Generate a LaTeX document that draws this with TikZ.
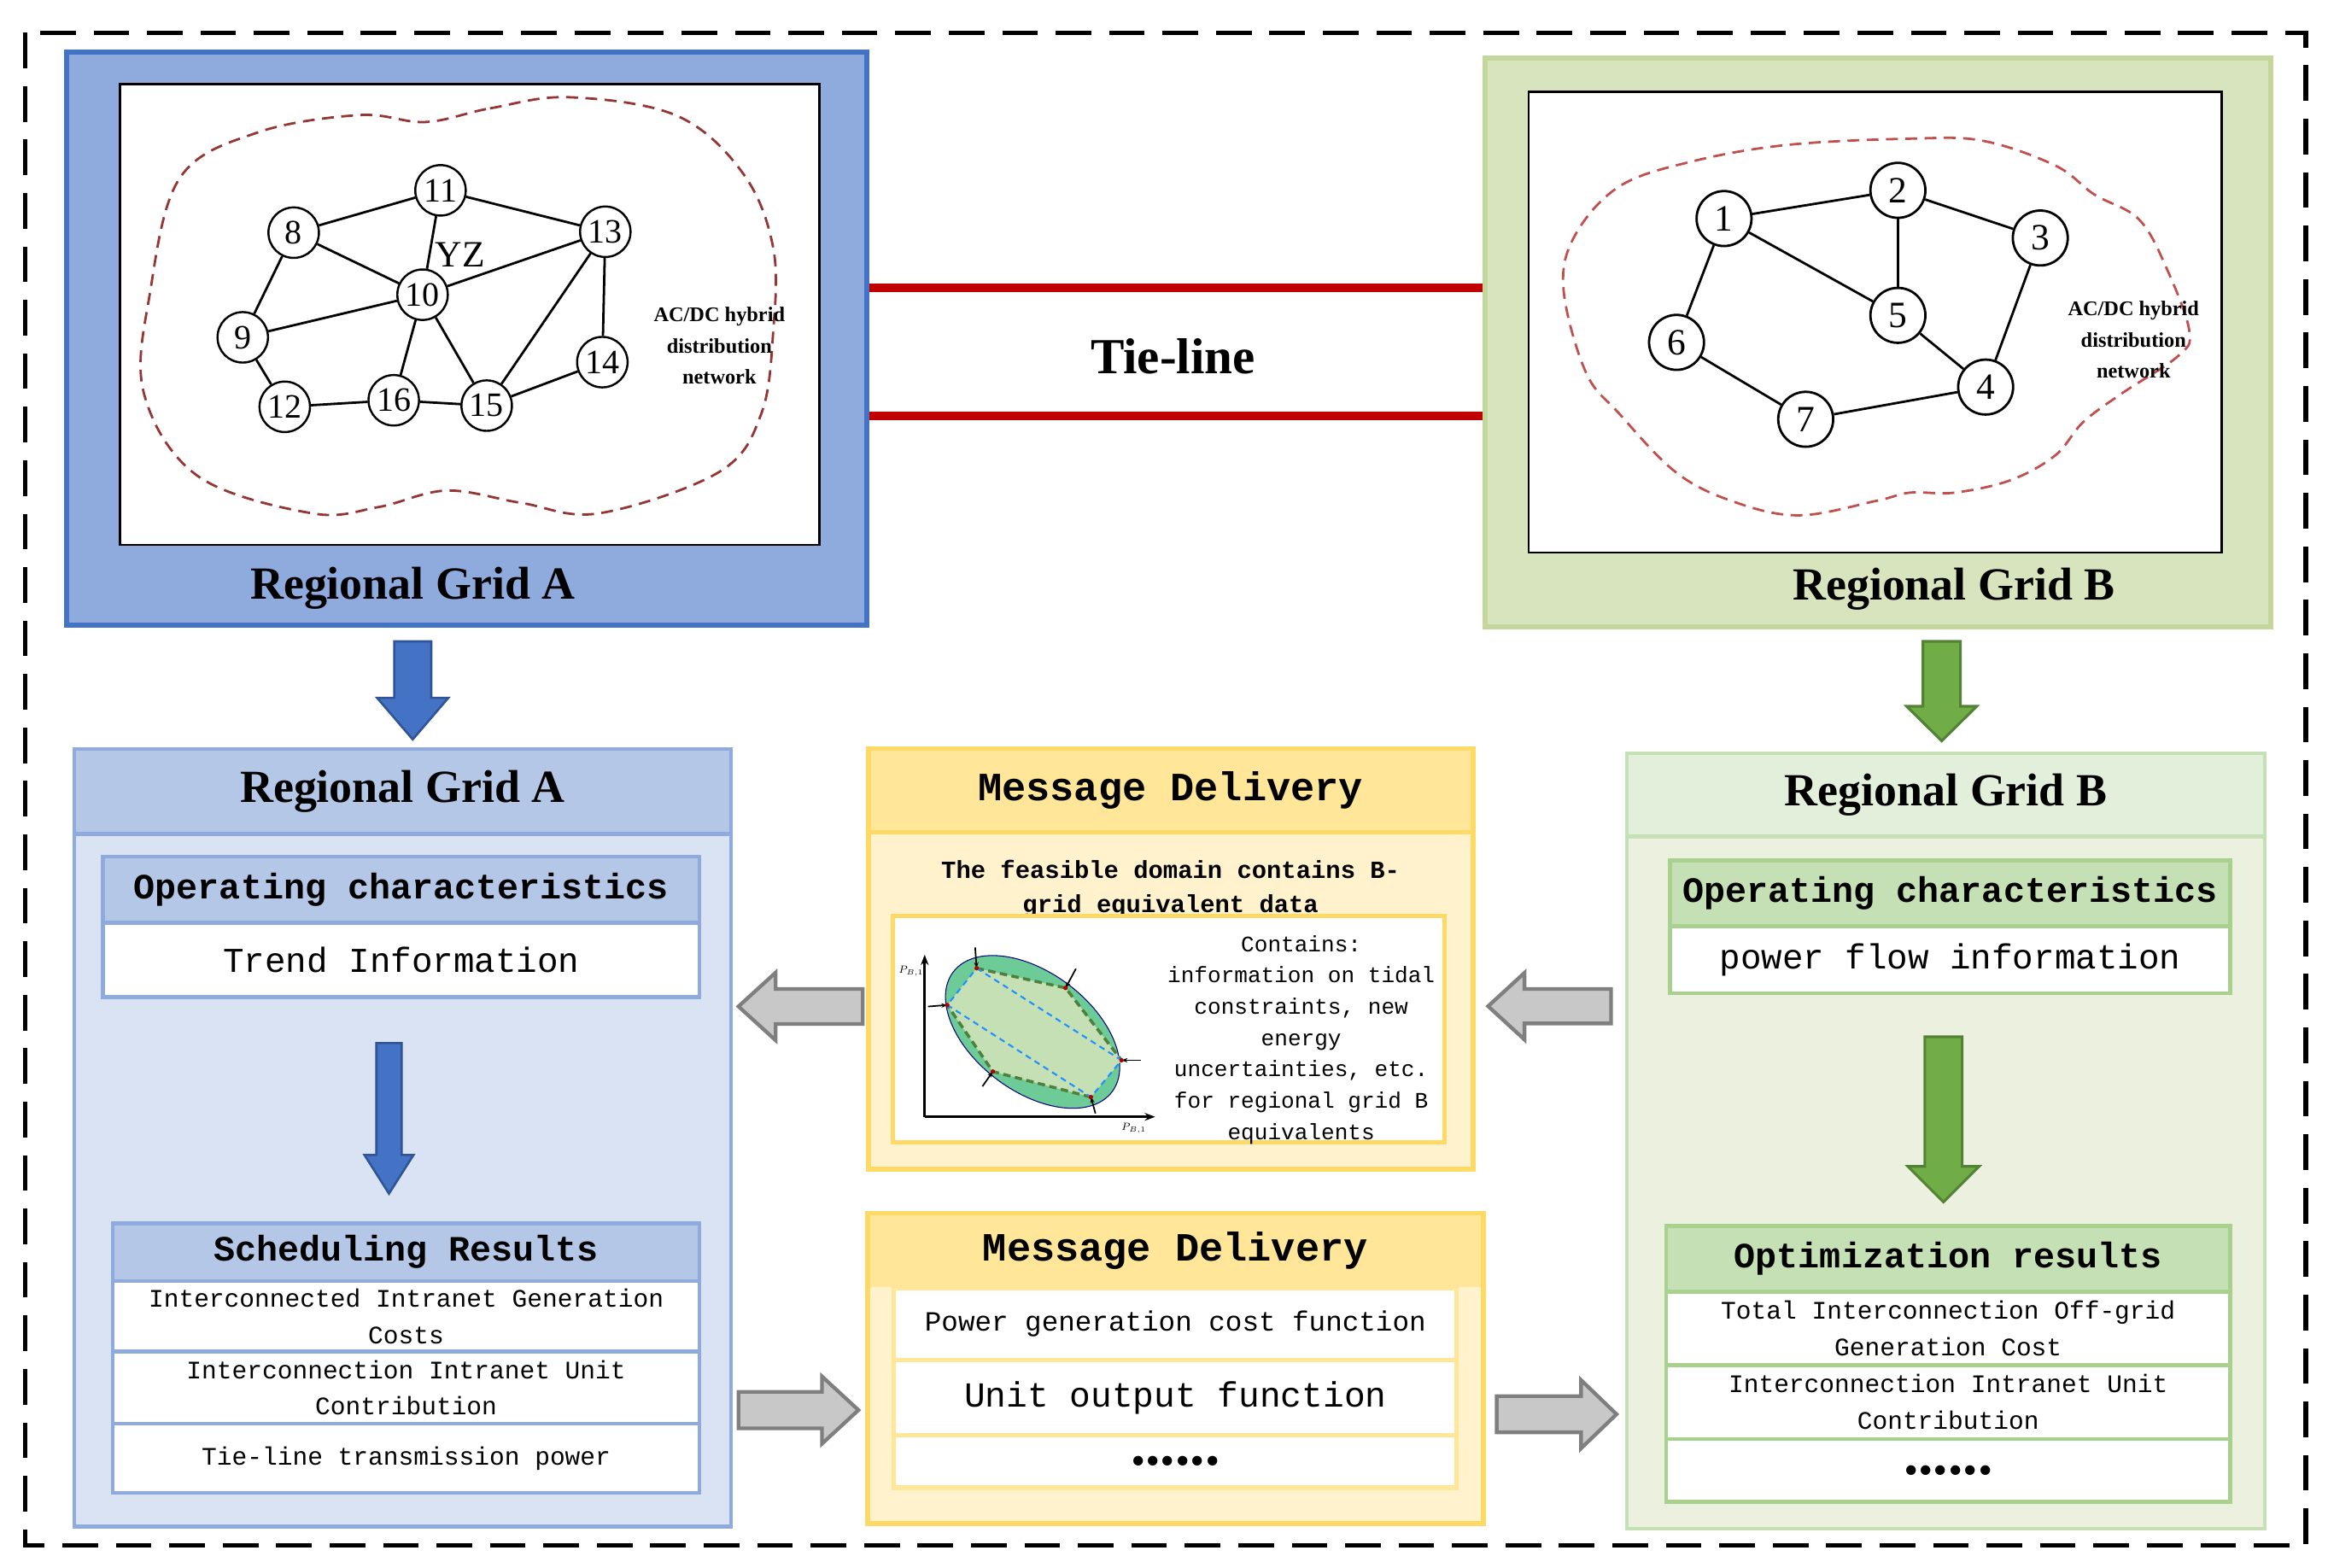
\documentclass[tikz,border=0pt]{standalone}
\usepackage{fontspec}
\setmainfont{Liberation Serif}
\newfontfamily\monofont{Liberation Mono}
\usetikzlibrary{calc, positioning, arrows.meta}

\definecolor{blueA}{HTML}{4472C4}
\definecolor{blueAfill}{HTML}{8FAADC}
\definecolor{blueHead}{HTML}{B4C7E7}
\definecolor{blueBody}{HTML}{DAE3F3}
\definecolor{blueDark}{HTML}{2F5597}
\definecolor{greenB}{HTML}{C3D69B}
\definecolor{greenBfill}{HTML}{D7E4BD}
\definecolor{greenHead}{HTML}{E2EFDA}
\definecolor{greenBody}{HTML}{EBF1DE}
\definecolor{greenLine}{HTML}{C5E0B4}
\definecolor{greenSub}{HTML}{C5E0B4}
\definecolor{greenSubLine}{HTML}{A9D18E}
\definecolor{greenArrow}{HTML}{70AD47}
\definecolor{greenDark}{HTML}{548235}
\definecolor{yellowLine}{HTML}{FFD966}
\definecolor{yellowHead}{HTML}{FFE699}
\definecolor{yellowBody}{HTML}{FFF2CC}
\definecolor{tieRed}{HTML}{C00000}
\definecolor{cloudA}{HTML}{943634}
\definecolor{cloudB}{HTML}{C0504D}
\definecolor{grayFill}{HTML}{C8C8C8}
\definecolor{grayLine}{HTML}{7F7F7F}
\definecolor{domainOut}{HTML}{6DCB98}
\definecolor{domainIn}{HTML}{C5E0B4}
\definecolor{hexGreen}{HTML}{4F7F3A}
\definecolor{hexBlue}{HTML}{1E90FF}

\tikzset{
  box/.style={draw, inner sep=0pt, outer sep=0pt},
  cell/.style 2 args={box, draw=#1, fill=#2, line width=2.5pt},
  netbus/.style={circle, draw, line width=1.4pt, fill=white, inner sep=0pt, minimum size=34pt, font=\fontsize{23}{23}\selectfont},
  netbusB/.style={netbus, minimum size=37pt, line width=1.6pt, font=\fontsize{25}{25}\selectfont},
  netlink/.style={line width=1.6pt},
  cloudline/.style={dash pattern=on 8pt off 5pt, line width=1.6pt},
  gridtitle/.style={font=\fontsize{31}{31}\selectfont\bfseries},
  hybridtext/.style={font=\fontsize{14}{21}\selectfont\bfseries, align=center},
  monohead/.style={font=\monofont\fontsize{24}{24}\selectfont\bfseries},
  monotext/.style={font=\monofont\fontsize{23.5}{24}\selectfont},
  monosmall/.style={font=\monofont\fontsize{17}{24.5}\selectfont, align=center},
  msgfont/.style={font=\monofont\fontsize{27}{27}\selectfont\bfseries},
  dotsfont/.style={font=\fontsize{40}{40}\selectfont\bfseries},
  bluearrow/.style={fill=blueA, draw=blueDark, line width=1.5pt},
  greenarrow/.style={fill=greenArrow, draw=greenDark, line width=1.8pt},
  fatgray/.style={fill=grayFill, draw=grayLine, line width=2.5pt},
}

\newcommand{\fatarrow}[6][]{%
  \coordinate (fa-s) at (#2);
  \coordinate (fa-e) at (#3);
  \coordinate (fa-h) at ($(fa-e)!#6!(fa-s)$);
  \draw[#1] ($(fa-s)!#4!90:(fa-e)$) -- ($(fa-h)!#4!-90:(fa-s)$) -- ($(fa-h)!#5!-90:(fa-s)$) -- (fa-e)
    -- ($(fa-h)!#5!90:(fa-s)$) -- ($(fa-h)!#4!90:(fa-s)$) -- ($(fa-s)!#4!-90:(fa-e)$) -- cycle;
}

\begin{document}
\begin{tikzpicture}[x=1pt, y=-1pt]
  \useasboundingbox (0,0) rectangle (1568,1056);
  \draw[line width=3pt, dash pattern=on 24pt off 12pt] (17,22) rectangle (1553,1041);

  % regional grid A
  \node[box, fill=blueAfill, draw=blueA, line width=3.5pt, minimum width=539pt, minimum height=386pt] (gridA) at (314.5,228) {};
  \node[box, fill=white, draw=black, line width=1.5pt, minimum width=471.3pt, minimum height=310.4pt] (netA) at (316.35,211.8) {};
  \draw[cloudline, cloudA] plot[smooth cycle, tension=0.6] coordinates {(286.6,82.2) (330,73) (383.5,65.5) (456,78) (500.6,117) (520.8,167) (520.8,223) (512.7,278.8) (484.5,317.8) (403.7,345.7) (351,338.7) (300.8,330.4) (255,341.5) (210,345.7) (133.2,320.6) (96.9,264.8) (100.9,198) (121.1,119.9) (173.6,89.2) (242.2,77.5)};
  \foreach \n/\x/\y in {8/197.8/156.7, 9/163.5/227.2, 10/284.6/198.5, 11/296.7/128.2, 12/191.8/274, 13/407.7/156.1, 14/405.7/243.9, 15/327.8/273.2, 16/265.2/269.6}
    \node[netbus] (a\n) at (\x,\y) {\n};
  \foreach \a/\b in {8/11, 11/13, 11/10, 8/10, 8/9, 9/10, 10/13, 13/15, 13/14, 10/16, 10/15, 9/12, 12/16, 16/15, 15/14}
    \draw[netlink] (a\a) -- (a\b);
  \node[font=\fontsize{25}{25}\selectfont] (yz) at (310,171.5) {YZ};
  \node[hybridtext] (hybridA) at (484.5,233) {AC/DC hybrid\\distribution\\network};
  \node[gridtitle] (titleA) at (278,396) {Regional Grid A};

  % regional grid B
  \node[box, fill=greenBfill, draw=greenB, line width=3.5pt, minimum width=529pt, minimum height=383.4pt] (gridB) at (1264.9,230.7) {};
  \node[box, fill=white, draw=black, line width=1.5pt, minimum width=466.7pt, minimum height=310.3pt] (netB) at (1262.85,217.05) {};
  \draw[cloudline, cloudB] plot[smooth cycle, tension=0.6] coordinates {(1286.5,93.4) (1335.4,94.8) (1384.3,111.5) (1410.6,131) (1440.7,147.8) (1459.5,181.2) (1474.6,223) (1467,239.8) (1429.4,264.8) (1403,284.4) (1384.3,306.7) (1354.2,323.4) (1316.5,331.8) (1286.5,331.8) (1263.9,337.3) (1211.2,347.1) (1166,337.3) (1128.4,317.8) (1090.8,278.8) (1068.2,250.9) (1053.1,195.2) (1060.6,158.9) (1090.8,125.5) (1139.8,108.7) (1203.8,97.6)};
  \foreach \n/\x/\y in {1/1161.2/147.2, 2/1278.3/128.2, 3/1374.2/160.3, 4/1337.4/260.7, 5/1278.3/212.4, 6/1129.2/230.6, 7/1216.2/282.4}
    \node[netbusB] (b\n) at (\x,\y) {\n};
  \foreach \a/\b in {1/2, 2/3, 2/5, 1/5, 1/6, 3/4, 5/4, 6/7, 7/4}
    \draw[netlink] (b\a) -- (b\b);
  \node[hybridtext] (hybridB) at (1437,229) {AC/DC hybrid\\distribution\\network};
  \node[gridtitle] (titleB) at (1316,397) {Regional Grid B};

  % tie-lines
  \draw[tieRed, line width=6pt, shorten <=1.75pt, shorten >=1.75pt] (gridA.east |- 0,194) -- (gridB.west |- 0,194);
  \draw[tieRed, line width=6pt, shorten <=1.75pt, shorten >=1.75pt] (gridA.east |- 0,280) -- (gridB.west |- 0,280);
  \node[font=\fontsize{34}{34}\selectfont\bfseries] (tieLabel) at (790,240) {Tie-line};

  % panel A
  \node[cell={blueAfill}{blueBody}, minimum width=442.4pt, minimum height=523.7pt] (panelA) at (271.1,766.35) {};
  \node[cell={blueAfill}{blueHead}, minimum width=442.4pt, minimum height=57.1pt, below=0pt of panelA.north, gridtitle] (panelAhead) {Regional Grid A};
  \node[cell={blueAfill}{blueHead}, minimum width=401.7pt, minimum height=44.7pt, monohead] (opA) at (270.25,599.15) {Operating characteristics};
  \node[cell={blueAfill}{white}, minimum width=401.7pt, minimum height=50pt, below=0pt of opA, monotext] (trendA) {Trend Information};
  \node[cell={blueAfill}{blueHead}, minimum width=395.1pt, minimum height=38.8pt, monohead] (schA) at (273.55,843.3) {Scheduling Results};
  \node[cell={blueAfill}{white}, minimum width=395.1pt, minimum height=47.6pt, below=0pt of schA, monosmall] (costA) {Interconnected Intranet Generation\\Costs};
  \node[cell={blueAfill}{white}, minimum width=395.1pt, minimum height=48.6pt, below=0pt of costA, monosmall] (unitA) {Interconnection Intranet Unit\\Contribution};
  \node[cell={blueAfill}{white}, minimum width=395.1pt, minimum height=46.5pt, below=0pt of unitA, monosmall] (tieA) {Tie-line transmission power};

  % panel B
  \node[cell={greenLine}{greenBody}, minimum width=429.9pt, minimum height=522.2pt] (panelB) at (1310.65,768.4) {};
  \node[cell={greenLine}{greenHead}, minimum width=429.9pt, minimum height=56.2pt, below=0pt of panelB.north, gridtitle] (panelBhead) {Regional Grid B};
  \node[cell={greenSubLine}{greenSub}, minimum width=377.5pt, minimum height=44.3pt, monohead] (opB) at (1313.45,601.75) {Operating characteristics};
  \node[cell={greenSubLine}{white}, minimum width=377.5pt, minimum height=45pt, below=0pt of opB, monotext] (flowB) {power flow information};
  \node[cell={greenSubLine}{greenSub}, minimum width=380.1pt, minimum height=44.2pt, monohead] (optB) at (1312.15,847.8) {Optimization results};
  \node[cell={greenSubLine}{white}, minimum width=380.1pt, minimum height=49.5pt, below=0pt of optB, monosmall] (totalB) {Total Interconnection Off-grid\\Generation Cost};
  \node[cell={greenSubLine}{white}, minimum width=380.1pt, minimum height=49.8pt, below=0pt of totalB, monosmall] (unitB) {Interconnection Intranet Unit\\Contribution};
  \node[cell={greenSubLine}{white}, minimum width=380.1pt, minimum height=42.2pt, below=0pt of unitB, dotsfont] (moreB) {......};

  % message delivery, top
  \node[cell={yellowLine}{yellowBody}, line width=3.3pt, minimum width=407.2pt, minimum height=283.3pt] (msgTop) at (788.4,645.85) {};
  \node[cell={yellowLine}{yellowHead}, line width=3.3pt, minimum width=407.2pt, minimum height=56.3pt, below=0pt of msgTop.north, msgfont] (msgTopHead) {Message Delivery};
  \node[font=\monofont\fontsize{16.6}{23}\selectfont\bfseries, align=center] (feasText) at (788.4,598.6) {The feasible domain contains B-\\grid equivalent data};
  \node[cell={yellowLine}{white}, line width=3pt, minimum width=371.5pt, minimum height=152.6pt] (msgInner) at (787.05,693) {};
  \node[font=\monofont\fontsize{15}{21.1}\selectfont, align=center] (containsText) at (876.4,700.2) {Contains:\\information on tidal\\constraints, new\\energy\\uncertainties, etc.\\for regional grid B\\equivalents};

  % feasible domain sketch
  \coordinate (ax) at (622.8,752.2);
  \coordinate (p1) at (657.8,652.1);
  \coordinate (p2) at (717.7,665.4);
  \coordinate (p3) at (755.4,714.1);
  \coordinate (p4) at (734.8,738.9);
  \coordinate (p5) at (668.7,721.7);
  \coordinate (p6) at (638,676.9);
  \filldraw[fill=domainOut, draw=blue!50!black, line width=0.6pt, rotate around={-37:(695.5,695)}] (695.5,695) ellipse [x radius=67, y radius=40];
  \fill[domainIn] (p1) -- (p2) -- (p3) -- (p4) -- (p5) -- (p6) -- cycle;
  \draw[hexGreen, line width=2pt, dash pattern=on 5pt off 3pt] (p1) -- (p2) -- (p3);
  \draw[hexGreen, line width=2pt, dash pattern=on 5pt off 3pt] (p4) -- (p5) -- (p6);
  \draw[hexBlue, line width=1.2pt, dash pattern=on 4pt off 3pt] (p1) -- (p3) -- (p4) -- (p6) -- cycle;
  \foreach \p/\dx/\dy in {p1/-1/-14, p2/7/-13, p3/13/0, p4/3/11, p5/-7/10, p6/-13/1}
    \draw[line width=1pt, -{Stealth[length=4pt]}] ($(\p)+(\dx,\dy)$) -- (\p);
  \foreach \p in {p1,p2,p3,p4,p5,p6}
    \fill[red!70!black] (\p) circle (1.5);
  \draw[line width=1.5pt, -{Stealth[length=7pt]}] (ax) -- (622.8,643);
  \draw[line width=1.5pt, -{Stealth[length=7pt]}] (ax) -- (778,752.2);
  \node[font=\fontsize{7}{7}\selectfont] (yLabel) at (613.7,654) {$P_{B,1}$};
  \node[font=\fontsize{7}{7}\selectfont] (xLabel) at (763.7,759.8) {$P_{B,1}$};

  % message delivery, bottom
  \node[cell={yellowLine}{yellowBody}, line width=3.3pt, minimum width=414.5pt, minimum height=209pt] (msgBot) at (791.65,921.7) {};
  \node[box, fill=yellowHead, draw=none, minimum width=411pt, minimum height=48.5pt, msgfont] (msgBotHead) at (791.65,842.6) {Message Delivery};
  \node[cell={yellowHead}{white}, line width=3pt, minimum width=379pt, minimum height=48.5pt, below=0.7pt of msgBotHead, font=\monofont\fontsize{18.75}{18.75}\selectfont] (costFn) {Power generation cost function};
  \node[cell={yellowHead}{white}, line width=3pt, minimum width=379pt, minimum height=50.5pt, below=0pt of costFn, font=\monofont\fontsize{23.7}{23.7}\selectfont] (unitFn) {Unit output function};
  \node[cell={yellowHead}{white}, line width=3pt, minimum width=379pt, minimum height=35.5pt, below=0pt of unitFn, dotsfont] (moreFn) {......};

  % block arrows
  \fatarrow[bluearrow]{$(gridA.south)+(-36.5,11)$}{$(panelA.north)+(6.9,-6.5)$}{12.5pt}{24pt}{28pt}
  \fatarrow[greenarrow]{$(gridB.south)+(42.9,9.6)$}{$(panelB.north)+(-2.85,-8.3)$}{12.6pt}{23.6pt}{23.3pt}
  \fatarrow[bluearrow]{$(trendA.south)+(-8.25,31)$}{$(schA.north)+(-11.55,-20)$}{8.5pt}{16.5pt}{26pt}
  \fatarrow[greenarrow]{$(flowB.south)+(-4.45,29.4)$}{$(optB.north)+(-3.15,-16.1)$}{12.6pt}{24pt}{24pt}
  \fatarrow[fatgray]{$(msgTop.west)+(-3.7,32)$}{$(msgTop.west -| panelA.east)+(5.1,32)$}{11.8pt}{22.8pt}{25pt}
  \fatarrow[fatgray]{$(panelA.east)+(5.1,183.35)$}{$(panelA.east -| msgBot.west)+(-6.2,183.35)$}{12.3pt}{22.7pt}{24.6pt}
  \fatarrow[fatgray]{$(panelB.west)+(-10.6,-90.7)$}{$(panelB.west -| msgTop.east)+(10.3,-90.7)$}{11.6pt}{22.5pt}{24.5pt}
  \fatarrow[fatgray]{$(msgBot.east)+(9.2,30.8)$}{$(msgBot.east -| panelB.west)+(-6.9,30.8)$}{12.2pt}{23pt}{23.9pt}
\end{tikzpicture}
\end{document}
